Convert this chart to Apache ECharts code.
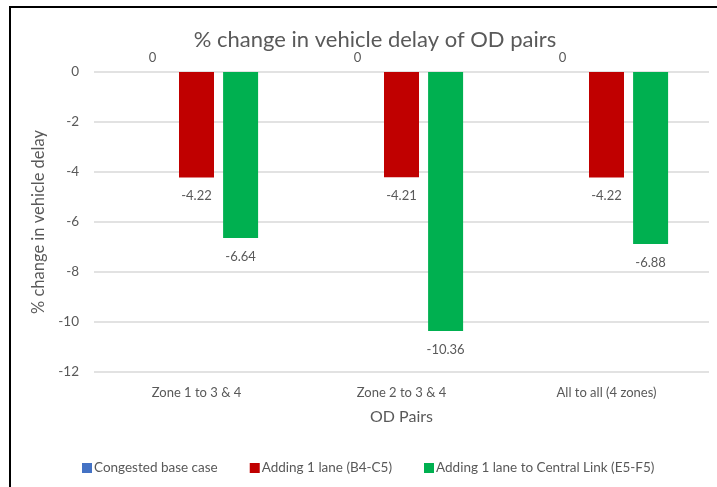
<!DOCTYPE html>
<html>
<head>
<meta charset="utf-8">
<script src="https://cdn.jsdelivr.net/npm/echarts@6/dist/echarts.min.js"></script>
<style>
    html, body { margin: 0; padding: 0; background: #fff; }
    #frame {
        position: absolute; left: 9px; top: 6px; width: 720px; height: 500px;
        border-left: 2px solid #000; border-top: 2px solid #000;
    }
    #chart { position: absolute; left: 0; top: 0; width: 717px; height: 487px; }
</style>
</head>
<body>
<div id="frame"></div>
<div id="chart"></div>
<script>
    // data
    const categories = ['Zone 1 to 3 & 4', 'Zone 2 to 3 & 4', 'All to all (4 zones)'];
    const baseCase = [0, 0, 0];
    const oneLane = [-4.22, -4.21, -4.22];
    const centralLink = [-6.64, -10.36, -6.88];
    const seriesNames = ['Congested base case', 'Adding 1 lane (B4-C5)', 'Adding 1 lane to Central Link (E5-F5)'];
    const yTicks = { min: -12, max: 0, step: 2 };

    const fontFam = 'Lato, "Open Sans", sans-serif';
    const grey = '#595959';

    function barSeries(name, data, color, pos) {
        return {
            name: name,
            type: 'bar',
            data: data,
            barWidth: 35,
            barGap: '26%',
            itemStyle: { color: color },
            label: {
                show: true,
                position: pos,
                distance: pos === 'top' ? 8 : 12,
                color: grey,
                fontFamily: fontFam,
                fontSize: 13
            }
        };
    }

    const option = {
        animation: false,
        title: {
            text: '% change in vehicle delay of OD pairs',
            left: 370, top: 24, textAlign: 'center',
            textStyle: { color: grey, fontFamily: fontFam, fontSize: 22, fontWeight: 'normal' }
        },
        legend: {
            top: 456,
            left: 77,
            itemWidth: 10, itemHeight: 10, itemGap: 32,
            icon: 'rect',
            textStyle: { color: grey, fontFamily: fontFam, fontSize: 13.5, padding: [0, 0, 0, -3] },
            data: seriesNames
        },
        grid: { left: 94, right: 8, top: 72, bottom: 115 },
        xAxis: {
            type: 'category',
            data: categories,
            position: 'bottom',
            axisLine: { show: false },
            axisTick: { show: false },
            axisLabel: { color: grey, fontFamily: fontFam, fontSize: 13, margin: 14 },
            name: 'OD Pairs',
            nameLocation: 'middle',
            nameGap: 37,
            nameTextStyle: { color: grey, fontFamily: fontFam, fontSize: 16 }
        },
        yAxis: {
            type: 'value',
            min: yTicks.min, max: yTicks.max, interval: yTicks.step,
            axisLine: { show: false },
            axisTick: { show: false },
            splitLine: { lineStyle: { color: '#d9d9d9', width: 1.5 } },
            axisLabel: { color: grey, fontFamily: fontFam, fontSize: 13.5, margin: 15 },
            name: '% change in vehicle delay',
            nameLocation: 'middle',
            nameGap: 42,
            nameRotate: 90,
            nameTextStyle: { color: grey, fontFamily: fontFam, fontSize: 16.5 }
        },
        series: [
            barSeries(seriesNames[0], baseCase, '#4472C4', 'top'),
            barSeries(seriesNames[1], oneLane, '#C00000', 'bottom'),
            barSeries(seriesNames[2], centralLink, '#00B050', 'bottom')
        ]
    };

    const chart = echarts.init(document.getElementById('chart'));
    chart.setOption(option);
</script>
</body>
</html>
